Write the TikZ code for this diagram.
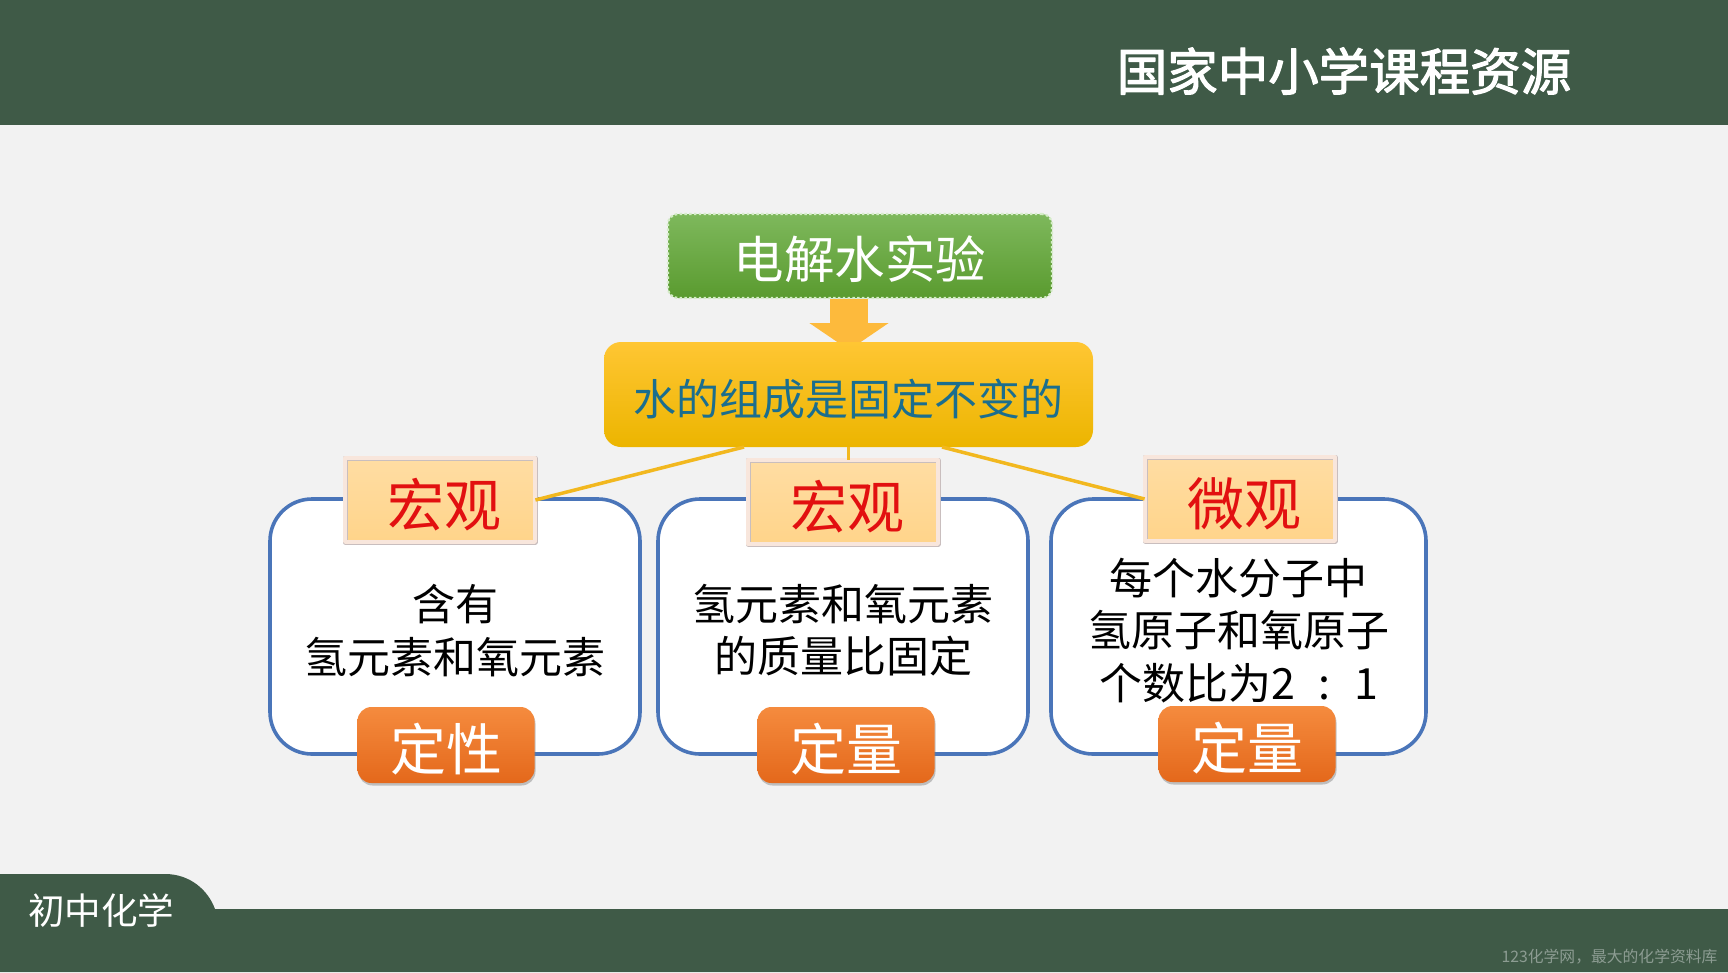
\documentclass[tikz,border=0pt]{standalone}
\usepackage{fontspec}
\setmainfont{Noto Sans CJK SC}
\usetikzlibrary{arrows.meta,shadows}
\definecolor{barcol}{HTML}{3F5A47}
\definecolor{pagecol}{HTML}{F2F2F2}
\definecolor{cardcol}{HTML}{4A75B9}
\definecolor{linkcol}{HTML}{F2B81F}
\definecolor{arrowcol}{HTML}{FDBA3C}
\definecolor{waterink}{HTML}{1B6E8E}
\definecolor{markcol}{HTML}{8C9C92}
\definecolor{greena}{HTML}{7EB85C}
\definecolor{greenb}{HTML}{5A9B2F}
\definecolor{greenc}{HTML}{D5ECC8}
\definecolor{yellowa}{HTML}{FFC633}
\definecolor{yellowb}{HTML}{ECB500}
\definecolor{heada}{HTML}{FFDDA3}
\definecolor{headb}{HTML}{FFD48A}
\definecolor{headedge}{HTML}{F8E6DC}
\definecolor{headrim}{HTML}{C9BEBE}
\definecolor{headink}{HTML}{E21010}
\definecolor{orangea}{HTML}{F58B3E}
\definecolor{orangeb}{HTML}{E4681B}
\newcommand{\cardtop}{\rule{0pt}{44pt}}
% heavier letters, by hand
\newcommand{\rimtext}[3]{\special{pdf:code q 2 Tr #1 w #2 RG}#3\special{pdf:code Q}}
\begin{document}
\begin{tikzpicture}[x=1pt, y=-1pt, line cap=round, line join=round,
	greenbox/.style={rounded corners=10pt, minimum width=384pt, minimum height=84pt, top color=greena, bottom color=greenb, draw=greenc, line width=2.2pt, line cap=butt, dash pattern=on 2.4pt off 2.4pt, text=white, text height=50pt, text depth=5pt, font=\fontsize{50.5}{60}\selectfont},
	waterbox/.style={rounded corners=17pt, minimum width=489pt, minimum height=105pt, top color=yellowa, bottom color=yellowb, text=waterink, text height=46.5pt, text depth=4.3pt, font=\fontsize{43}{52}\selectfont},
	cardbox/.style={rounded corners=42pt, minimum height=255pt, fill=white, draw=cardcol, line width=3.6pt, align=center, font=\fontsize{43}{52.5}\selectfont},
	headbox/.style={minimum width=190pt, minimum height=84pt, top color=heada, bottom color=headb, draw=headrim, double=headedge, line width=0.8pt, double distance=3.4pt, text=headink, text height=58pt, text depth=5.6pt, font=\fontsize{57}{66}\selectfont, drop shadow={shadow xshift=2pt, shadow yshift=-2pt, opacity=0.35}},
	footbox/.style={rounded corners=14pt, minimum width=177pt, minimum height=76pt, top color=orangea, bottom color=orangeb, text=white, text height=56pt, text depth=5.6pt, font=\fontsize{56}{66}\selectfont, drop shadow={shadow xshift=1pt, shadow yshift=-2.5pt, opacity=0.45}},
	link/.style={linkcol, line width=3.5pt, line cap=butt},
]
	\useasboundingbox (0,0) rectangle (1728,972);
	\fill[pagecol] (0,0) rectangle (1728,972);
	% bars
	\fill[barcol] (0,0) rectangle (1728,124.5);
	\fill[barcol] (0,874) -- (165,874) .. controls (190,874) and (208,890) .. (215,909) -- (1728,909) -- (1728,972) -- (0,972) -- cycle;
	\node[text=white, font=\fontsize{50.5}{60}\selectfont] (logo) at (1344,71) {\rimtext{1.2}{1 1 1}{国家中小学课程资源}};
	\node[text=white, font=\fontsize{36.5}{44}\selectfont] (course) at (101,910) {初中化学};
	\node[text=markcol, font=\fontsize{15.8}{19}\selectfont, anchor=east] (mark) at (1721,957) {123化学网，最大的化学资料库};
	% top of the chart
	\node[greenbox] (expt) at (860,256) {电解水实验};
	\coordinate (tipw) at (849,350);
	\draw[-{Triangle[width=78pt,length=27pt]}, line width=38pt, arrowcol, line cap=butt] (expt.south -| tipw) -- (tipw);
	\node[waterbox] (water) at (848.5,394.5) {水的组成是固定不变的};
	% three cards
	\node[cardbox, minimum width=370pt] (carda) at (455,626.5) {\cardtop 含有\\氢元素和氧元素};
	\node[cardbox, minimum width=370pt] (cardb) at (843,626.5) {\cardtop 氢元素和氧元素\\的质量比固定};
	\node[cardbox, minimum width=375pt] (cardc) at (1238.5,626.5) {\cardtop 每个水分子中\\氢原子和氧原子\\个数比为2\hspace{0.55em}:\hspace{0.55em}1};
	\node[headbox] (macroa) at (440,500) {\hspace{0.15em}宏观};
	\node[headbox] (macrob) at (843,502) {\hspace{0.15em}宏观};
	\node[headbox] (micro) at (1240,499) {\hspace{0.15em}微观};
	\node[footbox] (quala) at (446,745) {定性};
	\node[footbox] (quanb) at (846,745) {定量};
	\node[footbox] (quanc) at (1247,744) {定量};
	% links
	\coordinate (joinl) at (744,447);
	\coordinate (joinr) at (942,447);
	\draw[link] (joinl) -- (macroa.east);
	\draw[link] (water.south) -- (water.south |- macrob.north);
	\draw[link] (joinr) -- (micro.west);
\end{tikzpicture}
\end{document}
